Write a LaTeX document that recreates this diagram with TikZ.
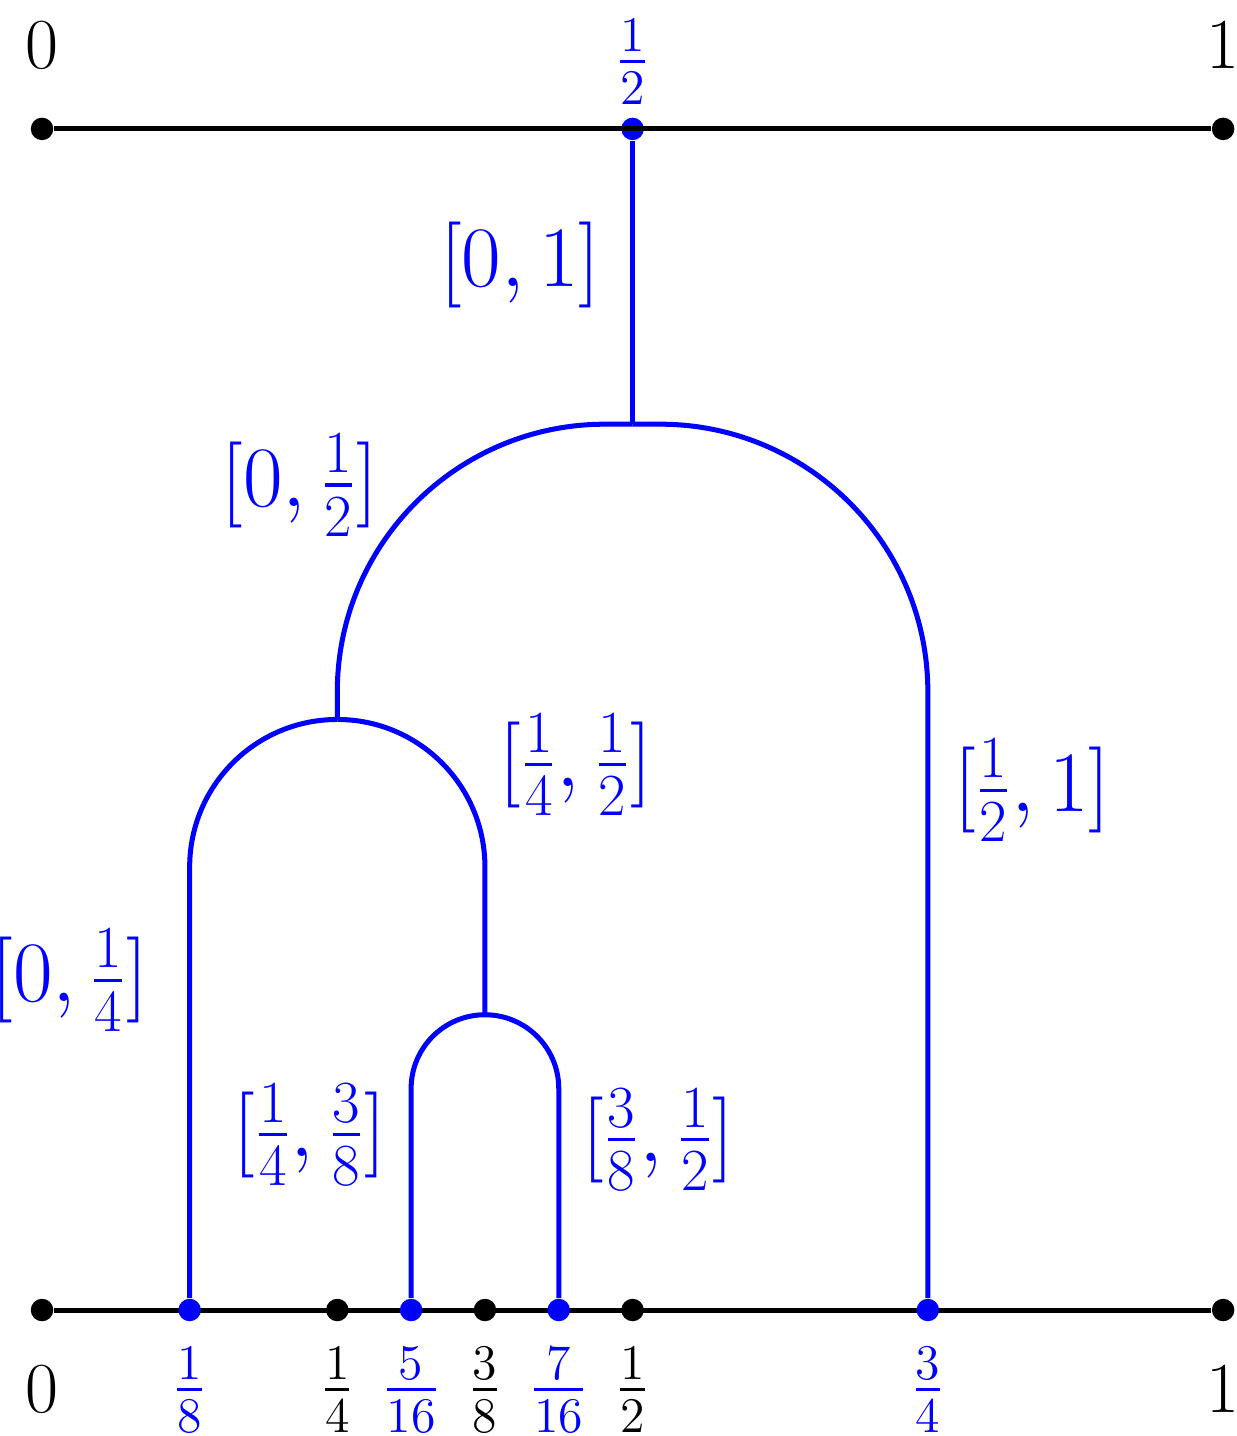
\documentclass[tikz,border=0pt]{standalone}
\usepackage{amsmath,amssymb}
\usepackage{xcolor}
\usetikzlibrary{positioning}

\begin{document}
\begin{tikzpicture}
      [ dot/.style={circle,fill=black,inner sep=0pt,minimum size=6.5pt},
        bdot/.style={dot,fill=blue},
        lab/.style={font=\huge},
        blab/.style={lab,text=blue},
        ilab/.style={blab,font=\fontsize{23.5}{28}\selectfont},
        tree/.style={blue,line width=1.45pt},
        axis/.style={black,line width=1.45pt}
      ]
      \useasboundingbox (-0.427,-1.28) rectangle (12.134,13.31);
      % top line
      \node[dot]  (t0)  at (0,12)  {};
      \node[dot]  (t1)  at (12,12) {};
      \node[bdot] (th)  at (6,12)  {};
      \draw[axis] (t0) -- (t1);
      \node[lab]  at (0,12.85)  {$0$};
      \node[lab]  at (12,12.85) {$1$};
      \node[blab] at (6,12.68)  {$\frac12$};
      % bottom line
      \node[dot] (b0) at (0,0)  {};
      \node[dot] (b1) at (12,0) {};
      \draw[axis] (b0) -- (b1);
      \foreach \x/\n in {3/b14, 4.5/b38, 6/b12}
        \node[dot] (\n) at (\x,0) {};
      \foreach \x/\n in {1.5/b18, 3.75/b516, 5.25/b716, 9/b34}
        \node[bdot] (\n) at (\x,0) {};
      \node[lab]  at (0,-0.81)    {$0$};
      \node[lab]  at (12,-0.81)   {$1$};
      \node[blab] at (1.5,-0.81)  {$\frac18$};
      \node[lab]  at (3,-0.81)    {$\frac14$};
      \node[blab] at (3.75,-0.81) {$\frac5{16}$};
      \node[lab]  at (4.5,-0.81)  {$\frac38$};
      \node[blab] at (5.25,-0.81) {$\frac7{16}$};
      \node[lab]  at (6,-0.81)    {$\frac12$};
      \node[blab] at (9,-0.81)    {$\frac34$};
      % tree
      \coordinate (r)   at (6,9);
      \coordinate (l)   at (3,6);
      \coordinate (lr)  at (4.5,3);
      \draw[tree] (th) -- (r);
      \draw[tree] (r) -- ++(-0.28,0) arc (90:180:2.72) -- (l);
      \draw[tree] (r) -- ++(0.28,0) arc (90:0:2.72) -- (b34);
      \draw[tree] (l) arc (90:180:1.5) -- (b18);
      \draw[tree] (l) arc (90:0:1.5) -- (lr);
      \draw[tree] (lr) arc (90:180:0.75) -- (b516);
      \draw[tree] (lr) arc (90:0:0.75) -- (b716);
      % interval labels
      \node[ilab] at (4.86,10.62) {$[0,1]$};
      \node[ilab] at (2.62,8.38)  {$[0,\frac12]$};
      \node[ilab] at (5.42,5.54)  {$[\frac14,\frac12]$};
      \node[ilab] at (10.06,5.28) {$[\frac12,1]$};
      \node[ilab] at (0.28,3.35)  {$[0,\frac14]$};
      \node[ilab] at (2.72,1.78)  {$[\frac14,\frac38]$};
      \node[ilab] at (6.26,1.73)  {$[\frac38,\frac12]$};
\end{tikzpicture}
\end{document}
